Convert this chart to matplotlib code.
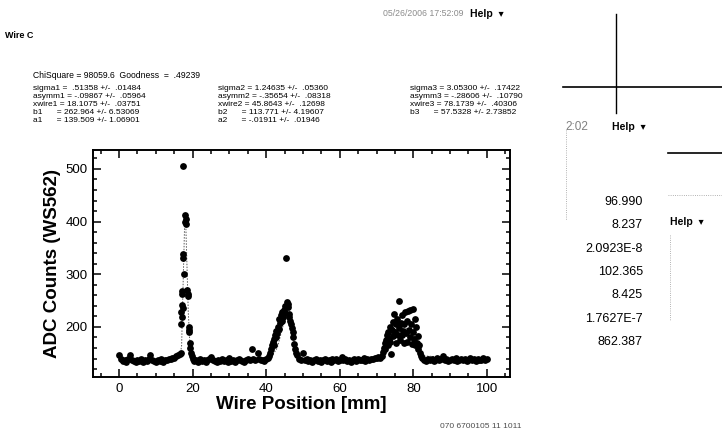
import matplotlib
matplotlib.use("Agg")
import matplotlib.pyplot as plt
from matplotlib.ticker import MultipleLocator

plt.rcParams['font.family'] = ['Liberation Sans Narrow', 'Liberation Sans', 'DejaVu Sans']

# wire scan data
base_a_x = [0, 0.5, 1, 1.5, 2, 2.5, 3, 3.5, 4, 4.5, 5, 5.5, 6, 6.5, 7, 7.5, 8, 8.5,
            9, 9.5, 10, 10.5, 11, 11.5, 12, 12.5, 13, 13.5, 14, 14.5, 15, 15.5, 16, 16.5]
base_a_y = [147, 139, 135, 138, 134, 139, 146, 137, 135, 134, 138, 135, 139, 134, 138, 136, 139, 147,
            137, 135, 134, 138, 136, 139, 134, 138, 137, 139, 140, 141, 142, 144, 146, 148]

peak1_x = [16.7, 16.8, 16.9, 17.0, 17.0, 17.1, 17.2, 17.3, 17.4, 17.5, 17.5, 17.6, 17.9,
           18.0, 18.1, 18.15, 18.4, 18.6, 18.7, 18.9, 19.0, 19.1, 19.2, 19.4, 19.6, 19.8]
peak1_y = [150, 205, 228, 242, 218, 268, 262, 236, 330, 505, 338, 300, 400,
           412, 405, 395, 270, 262, 258, 200, 195, 190, 170, 160, 150, 145]

base_b_x = [20, 20.5, 21, 21.5, 22, 22.5, 23, 23.5, 24, 24.5, 25, 25.5, 26, 26.5, 27, 27.5,
            28, 28.5, 29, 29.5, 30, 30.5, 31, 31.5, 32, 32.5, 33, 33.5, 34, 34.5, 35, 35.5,
            36.2, 36.5, 37, 37.7, 38, 38.5, 39, 39.5, 40, 40.5]
base_b_y = [140, 135, 138, 134, 139, 136, 138, 134, 137, 139, 143, 137, 135, 134, 138, 136,
            140, 135, 138, 134, 141, 136, 138, 134, 137, 139, 138, 135, 134, 138, 139, 137,
            159, 140, 138, 150, 139, 137, 138, 135, 139, 141]

peak2_x = [40.8, 41.0, 41.3, 41.5, 41.8, 42.0, 42.2, 42.4, 42.6, 42.8, 43.0, 43.2, 43.4,
           43.6, 43.8, 44.0, 44.2, 44.4, 44.6, 44.8, 45.0, 45.2, 45.5, 45.6, 45.8, 46.0,
           46.1, 46.3, 46.5, 46.8, 47.0, 47.2, 47.4, 47.6, 47.8, 48.0]
peak2_y = [145, 150, 158, 165, 172, 178, 165, 185, 180, 192, 188, 200, 196,
           215, 208, 222, 212, 228, 218, 232, 226, 240, 330, 248, 238, 244,
           225, 218, 212, 205, 198, 190, 180, 168, 158, 150]

base_c_x = [48.5, 49, 49.5, 50, 50.5, 51, 51.5, 52, 52.5, 53, 53.5, 54, 54.5, 55, 55.5, 56,
            56.5, 57, 57.5, 58, 58.5, 59, 59.5, 60, 60.5, 61, 61.5, 62, 62.5, 63, 63.5, 64,
            64.5, 65, 65.5, 66, 66.5, 67, 67.5, 68, 68.5, 69, 69.5, 70, 70.5, 71]
base_c_y = [146, 140, 138, 151, 137, 139, 135, 138, 134, 137, 139, 135, 138, 134, 137, 139,
            135, 138, 134, 140, 137, 139, 135, 138, 143, 137, 139, 135, 138, 134, 137, 139,
            135, 140, 138, 137, 141, 135, 139, 138, 140, 139, 142, 141, 143, 142]

peak3_x = [71.5, 71.8, 72.0, 72.2, 72.4, 72.6, 72.8, 73.0, 73.2, 73.4, 73.6, 73.8, 74.0,
           74.2, 74.4, 74.6, 74.8, 75.0, 75.2, 75.4, 75.6, 75.8, 76.0, 76.2, 76.4, 76.6,
           76.8, 77.0, 77.2, 77.4, 77.6, 77.8, 78.0, 78.2, 78.4, 78.6, 78.8, 79.0, 79.2,
           79.4, 79.6, 79.8, 80.0, 80.2, 80.4, 80.6, 80.8, 81.0, 81.2, 81.4, 81.6, 81.8, 82.0]
peak3_y = [145, 152, 160, 170, 158, 175, 185, 165, 190, 178, 200, 172, 148,
           195, 210, 182, 225, 190, 205, 170, 215, 185, 198, 250, 175, 208,
           185, 222, 192, 170, 205, 228, 188, 212, 172, 230, 195, 180, 232,
           205, 168, 235, 190, 178, 215, 165, 200, 170, 182, 158, 165, 150, 145]

base_d_x = [82.5, 83, 83.5, 84, 84.5, 85, 85.5, 86, 86.5, 87, 87.5, 88, 88.5, 89, 89.5, 90,
            90.5, 91, 91.5, 92, 92.5, 93, 93.5, 94, 94.5, 95, 95.5, 96, 96.5, 97, 97.5, 98,
            98.5, 99, 99.5, 100]
base_d_y = [141, 138, 135, 139, 137, 140, 135, 138, 141, 137, 139, 145, 137, 140, 135, 138,
            139, 137, 141, 135, 138, 140, 137, 139, 135, 138, 141, 137, 139, 135, 140, 138,
            137, 141, 138, 140]

# fitted curve (dotted)
fit_x = [0, 16.5, 17.0, 17.4, 17.8, 18.1, 18.4, 18.8, 19.3, 20, 41, 43, 44.5, 45.9, 46.8,
         47.8, 49, 70, 72.5, 75, 78.2, 80.5, 82.5, 100]
fit_y = [139, 140, 165, 280, 390, 402, 330, 230, 160, 140, 139, 160, 200, 252, 210,
         160, 139, 139, 160, 190, 197, 180, 145, 139]

x_ticks = [0, 20, 40, 60, 80, 100]
y_ticks = [200, 300, 400, 500]

fit_head = "ChiSquare = 98059.6  Goodness  =  .49239"
fit_col1 = ["sigma1 =  .51358 +/-  .01484", "asymm1 = -.09867 +/-  .05964",
            "xwire1 = 18.1075 +/-  .03751", "b1      = 262.964 +/- 6.53069",
            "a1      = 139.509 +/- 1.06901"]
fit_col2 = ["sigma2 = 1.24635 +/-  .05360", "asymm2 = -.35654 +/-  .08318",
            "xwire2 = 45.8643 +/-  .12698", "b2      = 113.771 +/- 4.19607",
            "a2      = -.01911 +/-  .01946"]
fit_col3 = ["sigma3 = 3.05300 +/-  .17422", "asymm3 = -.28606 +/-  .10790",
            "xwire3 = 78.1739 +/-  .40306", "b3      = 57.5328 +/- 2.73852"]
side_vals = ["96.990", "8.237", "2.0923E-8", "102.365", "8.425", "1.7627E-7", "862.387"]

W, H = 722, 428
fig = plt.figure(figsize=(W / 100, H / 100), dpi=100)
fig.patch.set_facecolor('white')


def px(x, y):
    return x / W, 1 - y / H


def ftext(x, y, s, **kw):
    kw.setdefault('va', 'center')
    fx, fy = px(x, y)
    fig.text(fx, fy, s, **kw)


def fline(xs, ys, **kw):
    fig.add_artist(plt.Line2D([x / W for x in xs], [1 - y / H for y in ys],
                              transform=fig.transFigure, **kw))


ax = fig.add_axes([93 / W, 1 - 377 / H, (510 - 93) / W, (377 - 150) / H])

ax.plot(fit_x, fit_y, color='0.35', lw=0.7, ls=(0, (1.5, 1.5)), zorder=2)
for xs, ys in [(base_a_x, base_a_y), (peak1_x, peak1_y), (base_b_x, base_b_y),
               (peak2_x, peak2_y), (base_c_x, base_c_y), (peak3_x, peak3_y),
               (base_d_x, base_d_y)]:
    ax.scatter(xs, ys, s=24, color='black', linewidths=0, zorder=3)

ax.set_xlim(-7.1, 106.3)
ax.set_ylim(105, 536)
ax.set_xticks(x_ticks)
ax.set_yticks(y_ticks)
ax.xaxis.set_minor_locator(MultipleLocator(5))
ax.yaxis.set_minor_locator(MultipleLocator(20))
ax.tick_params(which='both', direction='in', top=True, right=True, width=1.1,
               labelsize=9.5, pad=4)
ax.tick_params(which='major', length=6)
ax.tick_params(which='minor', length=3)
for sp in ax.spines.values():
    sp.set_linewidth(1.4)

ax.set_xlabel("Wire Position [mm]", fontsize=13.5, fontweight='bold', labelpad=1)
ax.set_ylabel("ADC Counts (WS562)", fontsize=13.5, fontweight='bold', labelpad=3)

# header texts
ftext(5, 36, "Wire C", fontsize=6.5, fontweight='bold')
ftext(383, 14, "05/26/2006 17:52:09", fontsize=6.3, color='0.55')
ftext(470, 14, "Help  \u25be", fontsize=7.5, fontweight='bold')
ftext(33, 75, fit_head, fontsize=6.2)
for i, s in enumerate(fit_col1):
    ftext(33, 89 + 7.8 * i, s, fontsize=6)
for i, s in enumerate(fit_col2):
    ftext(218, 89 + 7.8 * i, s, fontsize=6)
for i, s in enumerate(fit_col3):
    ftext(410, 89 + 7.8 * i, s, fontsize=6)

# screen capture remnants on the right
fline([616, 616], [14, 113], color='black', lw=1.0)
fline([563, 722], [87, 87], color='black', lw=1.2)
fline([668, 722], [153, 153], color='black', lw=1.2)
fline([566, 566], [130, 220], color='0.6', lw=0.6, ls=':')
fline([668, 722], [195, 195], color='0.6', lw=0.6, ls=':')
fline([670, 670], [235, 320], color='0.6', lw=0.6, ls=':')
ftext(565, 127, "2:02", fontsize=8.5, color='0.5')
ftext(612, 127, "Help  \u25be", fontsize=7.5, fontweight='bold')
ftext(670, 222, "Help  \u25be", fontsize=7.5, fontweight='bold')
for i, s in enumerate(side_vals):
    ftext(643, 202 + 23.3 * i, s, fontsize=9, ha='right')
ftext(440, 426, "070 6700105 11 1011", fontsize=6, color='0.3')

fig.savefig("out.png", dpi=100, facecolor='white')
